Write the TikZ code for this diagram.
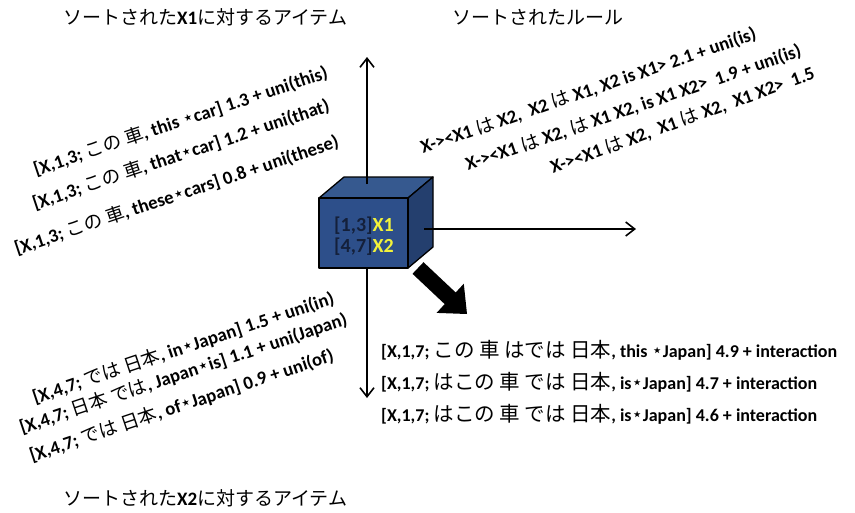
\documentclass[tikz,border=0pt]{standalone}
\usepackage{fontspec}
\setmainfont{Carlito}
\newfontfamily\jp{Noto Sans CJK JP}
\newfontfamily\djv{DejaVu Sans}
\newcommand{\J}[1]{{\jp\mdseries #1}}
\newcommand{\st}{{\djv\mdseries\raisebox{0.1ex}{⋆}}}
\usetikzlibrary{arrows.meta}
\definecolor{cubefront}{HTML}{2D4F8A}
\definecolor{cubetop}{HTML}{36598F}
\definecolor{cubeside}{HTML}{243F6E}
\definecolor{cubetxt}{HTML}{14203A}
\definecolor{xyellow}{HTML}{F2F23A}
\begin{document}
\begin{tikzpicture}[x=1pt,y=-1pt,
  rot/.style={rotate=18.5, anchor=base west, inner sep=0pt, font=\fontsize{18.7}{21}\selectfont\bfseries},
  hor/.style={anchor=base west, inner sep=0pt, font=\fontsize{18}{20}\selectfont\bfseries},
  ttl/.style={anchor=base west, inner sep=0pt, font=\fontsize{19}{22}\selectfont},
  axis/.style={line width=1.6pt, -{Straight Barb[length=9pt,width=14pt]}},
  cubelbl/.style={anchor=base, inner sep=0pt, font=\fontsize{20}{22}\selectfont\bfseries, text=cubetxt}]
\useasboundingbox (0,0) rectangle (855,512);
% titles
\node[ttl] (t1) at (63,24) {\J{ソートされた}\textbf{X1}\J{に対するアイテム}};
\node[ttl] (t2) at (452,24) {\J{ソートされたルール}};
\node[ttl] (t3) at (63,505) {\J{ソートされた}\textbf{X2}\J{に対するアイテム}};
% cube
\coordinate (fa) at (319,198);
\coordinate (fb) at (408,198);
\coordinate (fc) at (408,268);
\coordinate (fd) at (319,268);
\coordinate (ba) at (344,177);
\coordinate (bb) at (433,177);
\coordinate (bc) at (433,247);
\filldraw[fill=cubetop, draw=black, line width=1.3pt, line join=round] (fa) -- (ba) -- (bb) -- (fb) -- cycle;
\filldraw[fill=cubeside, draw=black, line width=1.3pt, line join=round] (fb) -- (bb) -- (bc) -- (fc) -- cycle;
\filldraw[fill=cubefront, draw=black, line width=1.3pt, line join=round] (fa) -- (fb) -- (fc) -- (fd) -- cycle;
\node[cubelbl] (l1) at (364,231) {[1,3]\textcolor{xyellow}{X1}};
\node[cubelbl] (l2) at (364,252) {[4,7]\textcolor{xyellow}{X2}};
% axes
\coordinate (upS) at (367,184);
\coordinate (upE) at (367,57);
\coordinate (dnS) at (367,268);
\coordinate (dnE) at (367,398);
\coordinate (rtS) at (424,229);
\coordinate (rtE) at (636,229);
\draw[axis] (upS) -- (upE);
\draw[axis] (dnS) -- (dnE);
\draw[axis] (rtS) -- (rtE);
% block arrow
\fill[black] (423.5,262.2) -- (455.7,292.5) -- (463.8,283.7) -- (467,314) -- (436.6,312.9) -- (444.7,304.1) -- (412.5,273.8) -- cycle;
% left top
\node[rot] (lt1) at (36,176) {[X,1,3; \J{この 車}, this \st car] 1.3 + uni(this)};
\node[rot] (lt2) at (35,210) {[X,1,3; \J{この 車}, that\st car] 1.2 + uni(that)};
\node[rot] (lt3) at (17,255) {[X,1,3; \J{この 車}, these\st cars] 0.8 + uni(these)};
% right top
\node[rot, rotate=0.5] (rt1) at (423,154) {X-><X1 \J{は} X2, \ X2 \J{は} X1, X2 is X1> 2.1 + uni(is)};
\node[rot, rotate=0.5] (rt2) at (468,171) {X-><X1 \J{は} X2, \J{は} X1 X2, is X1 X2> \ 1.9 + uni(is)};
\node[rot, rotate=1.5] (rt3) at (553,174) {X-><X1 \J{は} X2,\ \ X1 \J{は} X2,\ \ X1 X2>\ \ 1.5};
% left bottom
\node[rot] (lb1) at (35,404) {[X,4,7; \J{では 日本}, in\st Japan] 1.5 + uni(in)};
\node[rot] (lb2) at (22,434) {[X,4,7; \J{日本 では}, Japan\st is] 1.1 + uni(Japan)};
\node[rot] (lb3) at (32,462) {[X,4,7; \J{では 日本}, of\st Japan] 0.9 + uni(of)};
% right bottom
\node[hor] (rb1) at (381,357) {[X,1,7; \J{\fontsize{20.5}{22}\selectfont この 車 はでは 日本}, this \st Japan] 4.9 + interaction};
\node[hor] (rb2) at (381,389) {[X,1,7; \J{\fontsize{20.5}{22}\selectfont はこの 車 では 日本}, is\st Japan] 4.7 + interaction};
\node[hor] (rb3) at (381,421) {[X,1,7; \J{\fontsize{20.5}{22}\selectfont はこの 車 では 日本}, is\st Japan] 4.6 + interaction};
\end{tikzpicture}
\end{document}
